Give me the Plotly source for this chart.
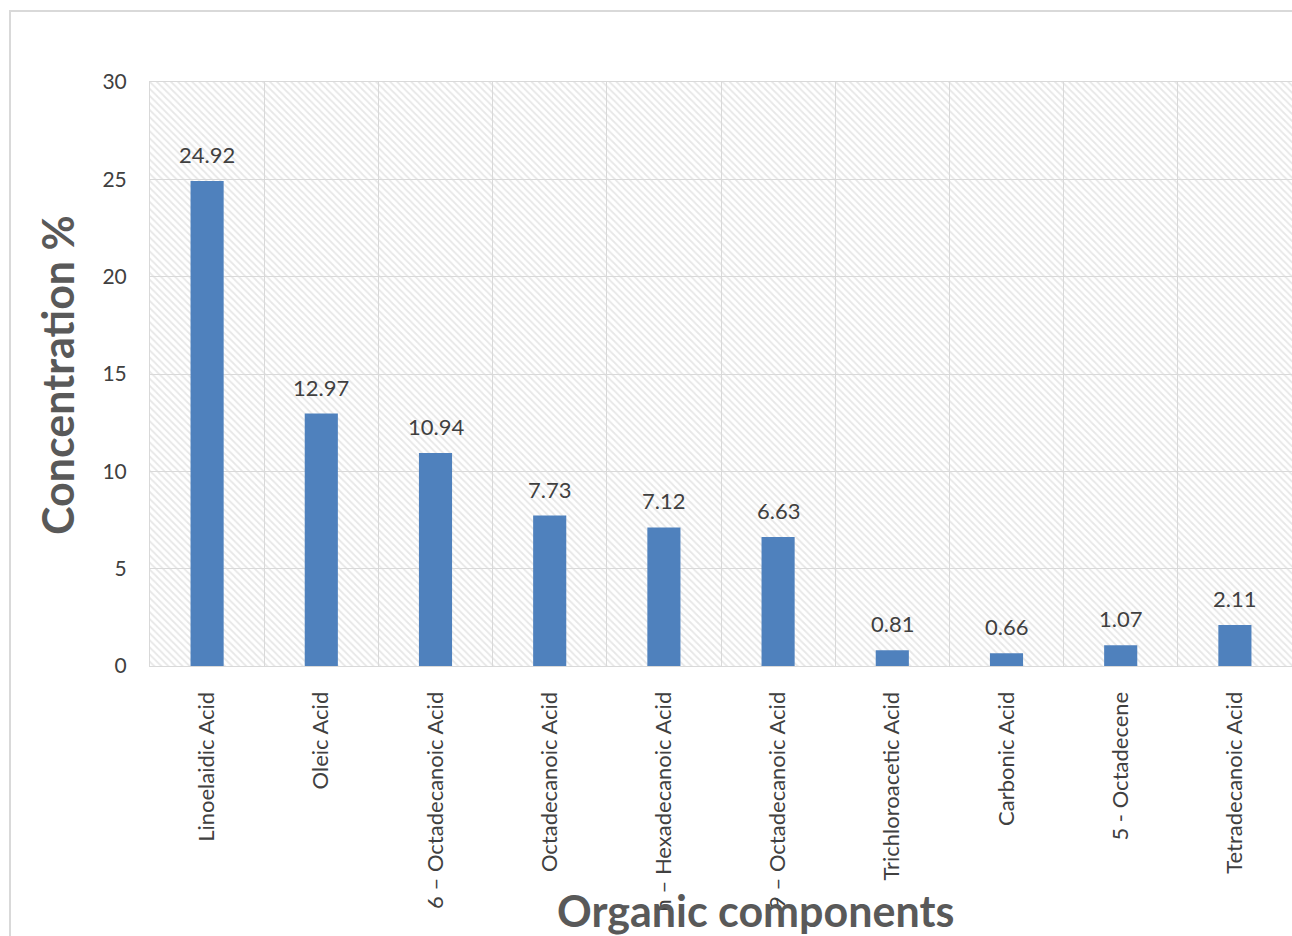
import plotly.graph_objects as go

components = [
    "Linoelaidic Acid",
    "Oleic Acid",
    "6 – Octadecanoic Acid",
    "Octadecanoic Acid",
    "n – Hexadecanoic Acid",
    "9 – Octadecanoic Acid",
    "Trichloroacetic Acid",
    "Carbonic Acid",
    "5 - Octadecene",
    "Tetradecanoic Acid",
]
concentration = [24.92, 12.97, 10.94, 7.73, 7.12, 6.63, 0.81, 0.66, 1.07, 2.11]
y_ticks = [0, 5, 10, 15, 20, 25, 30]

W, H = 1292, 936
L, R, T, B = 150, 0, 82, 270
PW, PH = W - L - R, H - T - B


def px_x(px):
    return (px - L) / PW


def px_y(py):
    return (H - B - py) / PH


GRID = "#d9d9d9"
TEXT = "#404040"
FONT = "Lato, 'Open Sans', sans-serif"

fig = go.Figure()

# Hatched plot-area fill on its own (lower) subplot
fig.add_trace(go.Bar(
    x=[0.5], y=[1], width=[1],
    marker=dict(color="white", line=dict(width=0),
                pattern=dict(shape="\\", fgcolor="#d0d0d0", bgcolor="white",
                             size=5, solidity=0.35)),
    hoverinfo="skip", showlegend=False, xaxis="x", yaxis="y",
))

# Concentration bars on the upper subplot
fig.add_trace(go.Bar(
    x=components, y=concentration,
    marker=dict(color="#4f81bd", line=dict(width=0)),
    showlegend=False, xaxis="x2", yaxis="y2",
))

annotations = []
for name, val in zip(components, concentration):
    annotations.append(dict(
        x=name, y=val, xref="x2", yref="y2", text=f"{val:.2f}",
        showarrow=False, yanchor="bottom", yshift=11,
        font=dict(family=FONT, size=22, color=TEXT),
    ))

annotations.append(dict(
    x=px_x(755), y=px_y(910), xref="paper", yref="paper",
    text="<b>Organic components</b>", showarrow=False,
    xanchor="center", yanchor="middle",
    font=dict(family=FONT, size=43, color="#595959"),
))
annotations.append(dict(
    x=px_x(57), y=px_y(375), xref="paper", yref="paper",
    text="<b>Concentration %</b>", showarrow=False, textangle=-90,
    xanchor="center", yanchor="middle",
    font=dict(family=FONT, size=43, color="#595959"),
))

fig.update_layout(
    width=W, height=H,
    margin=dict(l=L, r=R, t=T, b=B),
    paper_bgcolor="white", plot_bgcolor="rgba(0,0,0,0)",
    bargap=0.71,
    xaxis=dict(range=[0, 1], visible=False, domain=[0, 1]),
    yaxis=dict(range=[0, 1], visible=False, domain=[0, 1]),
    xaxis2=dict(
        type="category", domain=[0, 1], anchor="y2",
        tickson="boundaries", showgrid=True, gridcolor=GRID, gridwidth=1,
        ticks="", tickangle=-90, ticklabelstandoff=16,
        tickfont=dict(family=FONT, size=22, color=TEXT),
        showline=True, linecolor=GRID, linewidth=1, mirror=True,
    ),
    yaxis2=dict(
        range=[0, 30], tickvals=y_ticks, domain=[0, 1], anchor="x2",
        showgrid=True, gridcolor=GRID, gridwidth=1, zeroline=False,
        ticks="", ticklabelstandoff=18,
        tickfont=dict(family=FONT, size=21, color=TEXT),
        showline=True, linecolor=GRID, linewidth=1, mirror=True,
    ),
    annotations=annotations,
    shapes=[dict(
        type="rect", xref="paper", yref="paper",
        x0=px_x(10), x1=px_x(1310), y0=px_y(11), y1=px_y(960),
        line=dict(color="#d9d9d9", width=2), fillcolor="rgba(0,0,0,0)",
        layer="above",
    )],
)

fig.write_html("out.html")
